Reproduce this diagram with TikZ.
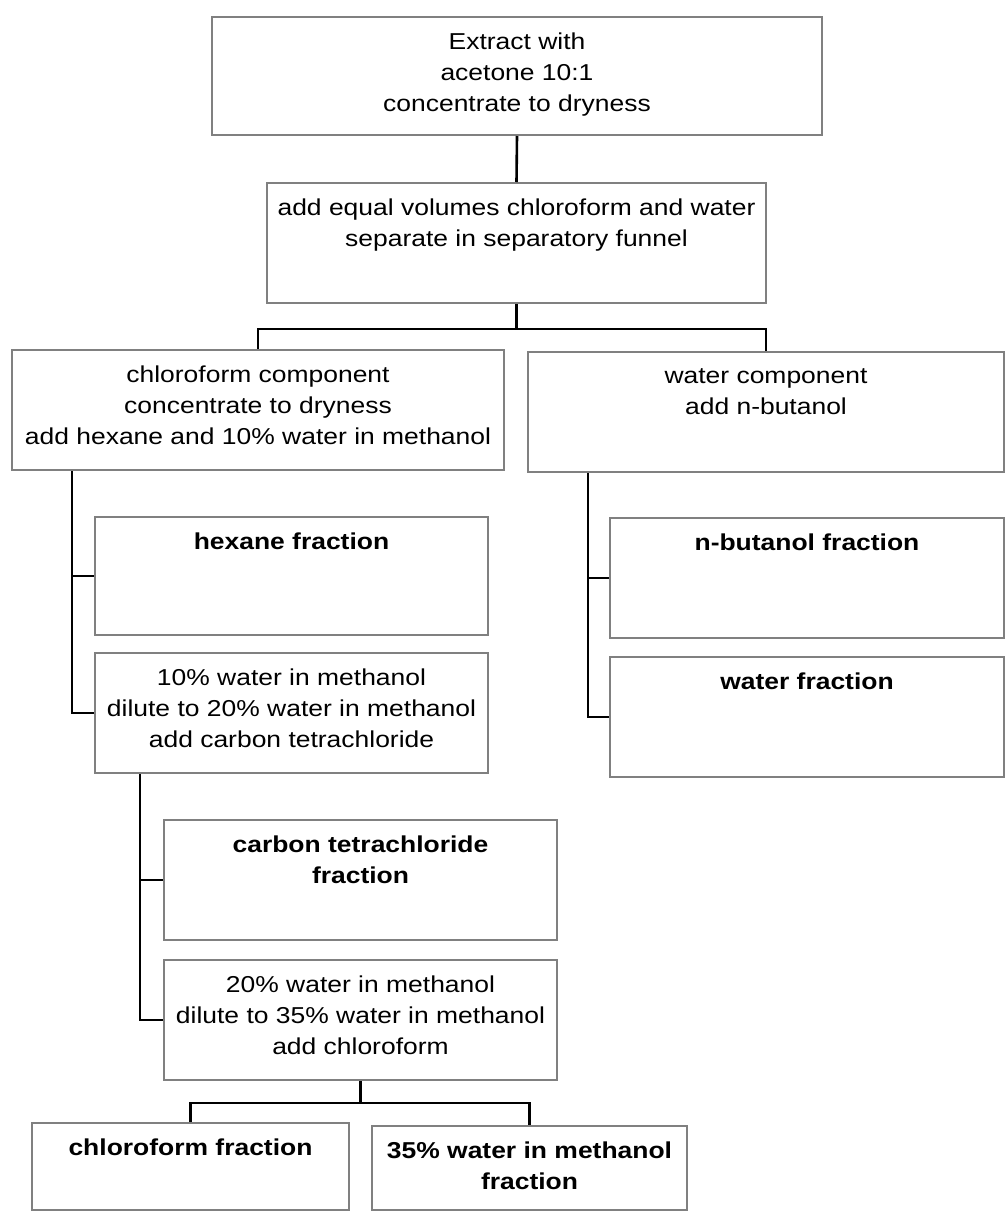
\documentclass[tikz,border=0pt]{standalone}
\usepackage{fontspec}
\setmainfont{Liberation Sans}[FakeStretch=1.15]
\usetikzlibrary{fit}

\tikzset{
  box/.style={draw=black!50, line width=2pt, inner sep=0pt},
  txt/.style={anchor=north, align=center, inner sep=0pt, yshift=-17pt, font=\fontsize{23}{31}\selectfont},
  btxt/.style={txt, font=\fontsize{23}{31}\selectfont\bfseries},
  link/.style={draw=black, line width=2.6pt},
}

\begin{document}
\begin{tikzpicture}[x=1pt, y=-1pt]
  \fill[white] (0,0) rectangle (1007,1213);
  \useasboundingbox (0,0) rectangle (1007,1213);

  % extraction and partition
  \node[box, fit={(212,17) (822,135)}, label={[txt]north:{Extract with\\acetone 10:1\\concentrate to dryness}}] (extract) {};
  \node[box, fit={(267,183) (766,303)}, label={[txt]north:{add equal volumes chloroform and water\\separate in separatory funnel}}] (sep) {};
  \node[box, fit={(12,350) (504,470)}, label={[txt]north:{chloroform component\\concentrate to dryness\\add hexane and 10\% water in methanol}}] (chl) {};
  \node[box, fit={(528,352) (1004,472)}, label={[txt]north:{water component\\add n-butanol}}] (wat) {};

  % fractions
  \node[box, fit={(95,517) (488,635)}, label={[btxt]north:{hexane fraction}}] (hex) {};
  \node[box, fit={(610,518) (1004,638)}, label={[btxt]north:{n-butanol fraction}}] (but) {};
  \node[box, fit={(95,653) (488,773)}, label={[txt]north:{10\% water in methanol\\dilute to 20\% water in methanol\\add carbon tetrachloride}}] (tenw) {};
  \node[box, fit={(610,657) (1004,777)}, label={[btxt]north:{water fraction}}] (watf) {};
  \node[box, fit={(164,820) (557,940)}, label={[btxt]north:{carbon tetrachloride\\fraction}}] (ccl) {};
  \node[box, fit={(164,960) (557,1080)}, label={[txt]north:{20\% water in methanol\\dilute to 35\% water in methanol\\add chloroform}}] (twenty) {};
  \node[box, fit={(32,1123) (349,1210)}, label={[btxt]north:{chloroform fraction}}] (chlf) {};
  \node[box, fit={(372,1126) (687,1210)}, label={[btxt]north:{35\% water in methanol\\fraction}}] (tfive) {};

  \coordinate (lbus) at (72,0);
  \coordinate (rbus) at (588,0);
  \coordinate (cbus) at (140,0);

  % connectors
  \draw[link] (extract.south) -- (sep.north);
  \draw[link] (sep.south) -- ++(0,25) -| (chl.north);
  \draw[link] (sep.south) ++(0,25) -| (wat.north);
  \draw[link] (chl.south -| lbus) |- (tenw.west);
  \draw[link] (hex.west -| lbus) -- (hex.west);
  \draw[link] (wat.south -| rbus) |- (watf.west);
  \draw[link] (but.west -| rbus) -- (but.west);
  \draw[link] (tenw.south -| cbus) |- (twenty.west);
  \draw[link] (ccl.west -| cbus) -- (ccl.west);
  \draw[link] (twenty.south) -- ++(0,22) -| (chlf.north);
  \draw[link] (twenty.south) ++(0,22) -| (tfive.north);
\end{tikzpicture}
\end{document}
